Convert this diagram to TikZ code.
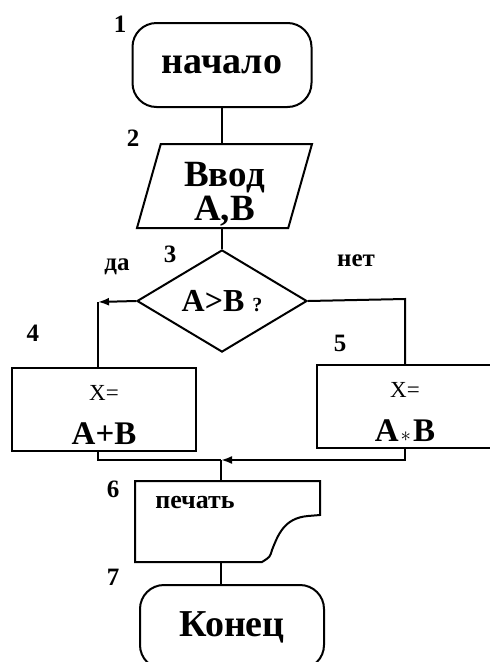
\documentclass[tikz,border=0pt]{standalone}
\usepackage{fontspec}
\setmainfont{Liberation Serif}
\usetikzlibrary{shapes.geometric,arrows.meta}
\tikzset{
  flow/.style={line width=2pt},
  arr/.style={flow,-{Latex[length=11pt,width=8pt]}},
  term/.style={draw,flow,rounded corners=24pt,minimum width=179pt,minimum height=84pt,inner sep=0pt,font=\bfseries\fontsize{38}{38}\selectfont},
  calcbox/.style={draw,flow,minimum height=83pt,inner sep=0pt,align=center,font=\bfseries\fontsize{33}{44}\selectfont},
  num/.style={font=\bfseries\fontsize{25}{25}\selectfont,inner sep=0pt},
}
\begin{document}
\begin{tikzpicture}[x=1pt,y=-1pt]
  \useasboundingbox (0,0) rectangle (490,662);
  \clip (0,0) rectangle (490,662);
  % start and input
  \node[term] (start) at (222,65) {начало};
  \node[draw,flow,trapezium,trapezium left angle=73.4,trapezium right angle=106.6,
        trapezium stretches body,minimum width=175pt,minimum height=84pt,inner sep=0pt,
        align=center,font=\bfseries\fontsize{37}{34}\selectfont] (input) at (224.5,186)
    {\rule{0pt}{40pt}Ввод\\A,B};
  % condition
  \node[draw,flow,diamond,minimum width=170pt,minimum height=86pt,inner sep=0pt,
        font=\bfseries\fontsize{32}{32}\selectfont] (cond) at (222,301) {A>B~{\fontsize{20}{20}\selectfont ?}};
  % branches
  \node[calcbox,minimum width=184pt] (calcA) at (104,409.5)
    {\rule{0pt}{27pt}{\mdseries\fontsize{23}{23}\selectfont X=}\\A+B};
  \node[calcbox,minimum width=176pt] (calcM) at (405,406.5)
    {\rule{0pt}{27pt}{\mdseries\fontsize{23}{23}\selectfont X=}\\A\kern2pt{\fontsize{22}{22}\selectfont$\ast$}\kern2pt B};
  % output document
  \coordinate (docTL) at (135,481);
  \coordinate (docTR) at (320,481);
  \coordinate (docBL) at (135,562);
  \coordinate (printtop) at (221,481);
  \coordinate (printbot) at (221,562);
  \draw[flow] (docBL) -- (docTL) -- (docTR) -- (320,515) -- (308,516)
    .. controls (284,518) and (278,535) .. (272,550)
    .. controls (270,557) .. (262,562) -- cycle;
  \node[font=\bfseries\fontsize{26}{26}\selectfont,inner sep=0pt] (print) at (195,503) {печать};
  \node[term,minimum width=184pt] (stop) at (232,627) {Конец};
  % connectors
  \coordinate (yesc) at (98,302);
  \coordinate (noc) at (405,299);
  \coordinate (joinc) at (221,460);
  \draw[flow] (start.south) -- (start.south |- input.north);
  \draw[flow] (start.south |- input.south) -- (cond.north);
  \draw[arr] (cond.west) -- (yesc);
  \draw[flow] (yesc) -- (yesc |- calcA.north);
  \draw[flow] (cond.east) -- (noc) -- (noc |- calcM.north);
  \draw[flow] (yesc |- calcA.south) -- (yesc |- joinc) -- (joinc);
  \draw[arr] (noc |- calcM.south) -- (noc |- joinc) -- (joinc);
  \draw[flow] (joinc) -- (printtop);
  \draw[flow] (printbot) -- (printbot |- stop.north);
  % labels
  \node[num] (n1) at (120,24) {1};
  \node[num] (n2) at (133,138) {2};
  \node[num] (n3) at (170,254) {3};
  \node[num] (yes) at (117,267) {да};
  \node[num] (no) at (356,261) {нет};
  \node[num] (n4) at (33,333) {4};
  \node[num] (n5) at (340,343) {5};
  \node[num] (n6) at (113,489) {6};
  \node[num] (n7) at (113,577) {7};
\end{tikzpicture}
\end{document}
